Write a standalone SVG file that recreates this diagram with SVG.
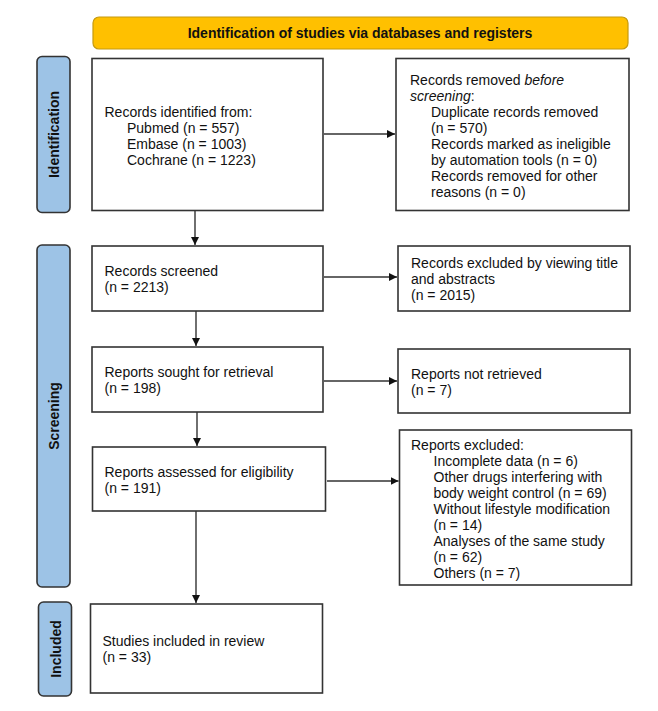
<svg xmlns="http://www.w3.org/2000/svg" width="658" height="711" viewBox="0 0 658 711">
<style>
text{font-family:"Liberation Sans",Arial,sans-serif;font-size:14px;fill:#111}
.b{font-weight:bold}
.box{fill:#fff;stroke:#333;stroke-width:1.6}
.side{fill:#9DC3E6;stroke:#333;stroke-width:1.6}
.bar{fill:#FFC000;stroke:#C59A10;stroke-width:1.2}
.con{stroke:#333;stroke-width:1.4;fill:none;marker-end:url(#ah)}
</style>
<defs>
<marker id="ah" viewBox="0 0 10 10" refX="10" refY="5" markerWidth="8" markerHeight="8" markerUnits="userSpaceOnUse" orient="auto"><path d="M0,0 L10,5 L0,10 z" fill="#111"/></marker>
</defs>
<rect width="658" height="711" fill="#fff"/>
<g id="title">
<rect class="bar" x="93" y="17" width="535" height="32" rx="6"/>
<text class="b" x="360" y="38" text-anchor="middle">Identification of studies via databases and registers</text>
</g>
<g id="lbl-identification">
<rect class="side" x="37" y="56.5" width="33" height="156" rx="5"/>
<text class="b" transform="translate(59,134.5) rotate(-90)" text-anchor="middle">Identification</text>
</g>
<g id="lbl-screening">
<rect class="side" x="37" y="245" width="33" height="342" rx="5"/>
<text class="b" transform="translate(59,416) rotate(-90)" text-anchor="middle">Screening</text>
</g>
<g id="lbl-included">
<rect class="side" x="38.5" y="602" width="33" height="94" rx="5"/>
<text class="b" transform="translate(60.5,649) rotate(-90)" text-anchor="middle">Included</text>
</g>
<g id="n-identified">
<rect class="box" x="92" y="58.5" width="231" height="152"/>
<text x="104.5" y="117">Records identified from:</text>
<text x="127" y="133">Pubmed (n = 557)</text>
<text x="127" y="149">Embase (n = 1003)</text>
<text x="127" y="165">Cochrane (n = 1223)</text>
</g>
<g id="n-removed">
<rect class="box" x="396" y="58.5" width="233" height="152"/>
<text x="410" y="85">Records removed <tspan font-style="italic">before</tspan></text>
<text x="410" y="101"><tspan font-style="italic">screening</tspan>:</text>
<text x="431" y="117">Duplicate records removed</text>
<text x="431" y="133">(n = 570)</text>
<text x="431" y="149">Records marked as ineligible</text>
<text x="431" y="165">by automation tools (n = 0)</text>
<text x="431" y="181">Records removed for other</text>
<text x="431" y="197">reasons (n = 0)</text>
</g>
<g id="n-screened">
<rect class="box" x="92" y="246" width="231" height="65"/>
<text x="104.5" y="276">Records screened</text>
<text x="104.5" y="292">(n = 2213)</text>
</g>
<g id="n-excl-title">
<rect class="box" x="398" y="246" width="232" height="65"/>
<text x="411" y="268">Records excluded by viewing title</text>
<text x="411" y="284">and abstracts</text>
<text x="411" y="300">(n = 2015)</text>
</g>
<g id="n-sought">
<rect class="box" x="92" y="347" width="231" height="65"/>
<text x="104.5" y="377">Reports sought for retrieval</text>
<text x="104.5" y="393">(n = 198)</text>
</g>
<g id="n-notretrieved">
<rect class="box" x="398" y="349" width="232" height="64"/>
<text x="411" y="379">Reports not retrieved</text>
<text x="411" y="395">(n = 7)</text>
</g>
<g id="n-assessed">
<rect class="box" x="92.5" y="447" width="233" height="64"/>
<text x="104.5" y="477">Reports assessed for eligibility</text>
<text x="104.5" y="493">(n = 191)</text>
</g>
<g id="n-excluded">
<rect class="box" x="399.5" y="430" width="232" height="155"/>
<text x="411" y="450">Reports excluded:</text>
<text x="433.5" y="466">Incomplete data (n = 6)</text>
<text x="433.5" y="482">Other drugs interfering with</text>
<text x="433.5" y="498">body weight control (n = 69)</text>
<text x="433.5" y="514">Without lifestyle modification</text>
<text x="433.5" y="530">(n = 14)</text>
<text x="433.5" y="546">Analyses of the same study</text>
<text x="433.5" y="562">(n = 62)</text>
<text x="433.5" y="578">Others (n = 7)</text>
</g>
<g id="n-included">
<rect class="box" x="90.5" y="604" width="232" height="89"/>
<text x="102.5" y="646">Studies included in review</text>
<text x="102.5" y="662">(n = 33)</text>
</g>
<g id="connectors">
<line class="con" x1="324" y1="134" x2="395" y2="134"/>
<line class="con" x1="195" y1="211" x2="195" y2="245"/>
<line class="con" x1="324" y1="277" x2="397" y2="277"/>
<line class="con" x1="196" y1="311" x2="196" y2="346"/>
<line class="con" x1="324" y1="381" x2="397" y2="381"/>
<line class="con" x1="197" y1="412" x2="197" y2="446"/>
<line class="con" x1="327" y1="481" x2="398.5" y2="481"/>
<line class="con" x1="196" y1="511" x2="196" y2="603"/>
</g>
</svg>
